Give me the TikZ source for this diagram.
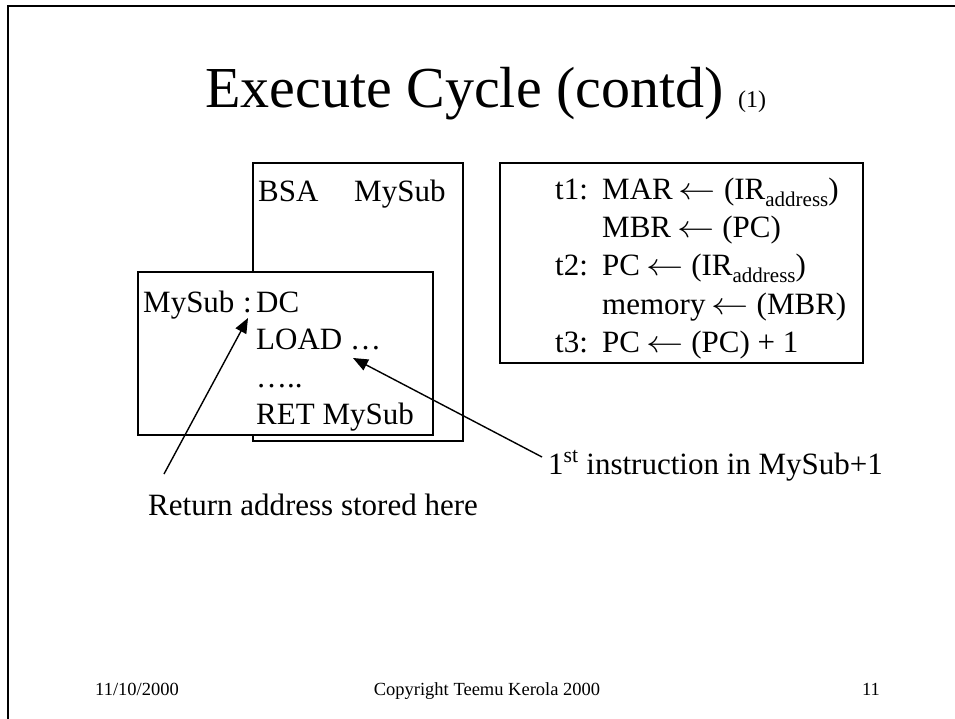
\RequirePackage{fix-cm}
\documentclass[tikz,border=0pt]{standalone}
\usepackage{graphicx}
\usepackage{fontspec}
\setmainfont{Liberation Serif}
\usetikzlibrary{arrows.meta}

% lowered subscript in the register-transfer lines
\newcommand{\regsub}[1]{\raisebox{-7pt}{\fontsize{21}{21}\selectfont #1}}
% long assignment arrow
\newcommand{\assign}{\hspace{6pt}\scalebox{1.2}[1]{$\leftarrow$}\hspace{8pt}}

\begin{document}
\begin{tikzpicture}[x=1pt,y=-1pt,
  txt/.style={anchor=base west, inner sep=0pt, font=\fontsize{31}{37}\selectfont},
  foot/.style={anchor=base, inner sep=0pt, font=\fontsize{18.5}{22}\selectfont},
  box/.style={draw, line width=1.8pt, fill=white, anchor=north west, inner sep=0pt},
  pointer/.style={line width=1.4pt, -{Triangle[length=15pt,width=12pt]}}]

% slide area and frame
\useasboundingbox (0,0) rectangle (955,719);
\fill[white] (0,0) rectangle (955,719);
\draw[line width=2pt] (8,730) -- (8,6) -- (965,6);

% title
\node[anchor=base west, inner sep=0pt, font=\fontsize{58}{60}\selectfont] (title) at (205,108)
  {Execute Cycle (contd) {\fontsize{24}{24}\selectfont (1)}};

% calling code and subroutine
\node[box, minimum width=210, minimum height=278] (caller) at (252,162) {};
\node[txt] (bsa) at (258,202) {BSA};
\node[txt] (bsaop) at (354,202) {MySub};

\node[box, minimum width=295, minimum height=163] (sub) at (137,271) {};
\node[txt] (sublabel) at (143,312) {MySub};
\node[txt] (colon) at (243,312) {:};
\node[txt] (dc) at (256,312) {DC};
\node[txt] (load) at (256,349.5) {LOAD …};
\node[txt] (more) at (256,387) {…..};
\node[txt] (ret) at (256,424.5) {RET MySub};

% micro-operations
\node[box, minimum width=363, minimum height=200] (ops) at (499,162) {};
\node[txt] (t1) at (555,200) {t1:};
\node[txt] (op1) at (602,200) {MAR\assign(IR\regsub{address})};
\node[txt] (op2) at (602,238) {MBR\assign(PC)};
\node[txt] (t2) at (555,276) {t2:};
\node[txt] (op3) at (602,276) {PC\assign(IR\regsub{address})};
\node[txt] (op4) at (602,314) {memory\assign(MBR)};
\node[txt] (t3) at (555,352) {t3:};
\node[txt] (op5) at (602,352) {PC\assign(PC) + 1};

% annotations
\node[txt] (retnote) at (148,515) {Return address stored here};
\node[txt] (firstnote) at (548,474) {1\textsuperscript{st} instruction in MySub+1};

\coordinate (retfrom) at (164,474);
\coordinate (retto) at (248,318);
\coordinate (firstfrom) at (542,457);
\coordinate (firstto) at (353,358);
\draw[pointer] (retfrom) -- (retto);
\draw[pointer] (firstfrom) -- (firstto);

% footer
\node[foot] (date) at (137,695) {11/10/2000};
\node[foot] (copy) at (487,695) {Copyright Teemu Kerola 2000};
\node[foot] (page) at (871,695) {11};
\end{tikzpicture}
\end{document}
